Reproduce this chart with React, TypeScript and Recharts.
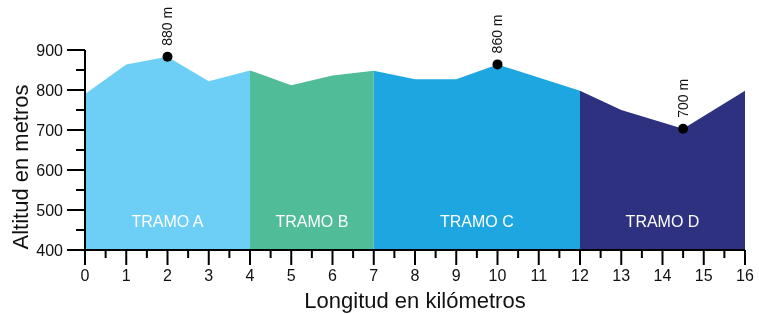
import React from "react";
import {
  ComposedChart,
  Area,
  Scatter,
  XAxis,
  YAxis,
  ReferenceDot,
  Label,
} from "recharts";

const tramoA = [
  { km: 0, alt: 790 },
  { km: 1, alt: 864 },
  { km: 2, alt: 883 },
  { km: 3, alt: 822 },
  { km: 4, alt: 849 },
];
const tramoB = [
  { km: 4, alt: 849 },
  { km: 5, alt: 812 },
  { km: 6, alt: 836 },
  { km: 7, alt: 848 },
];
const tramoC = [
  { km: 7, alt: 848 },
  { km: 8, alt: 827 },
  { km: 9, alt: 827 },
  { km: 10, alt: 864 },
  { km: 12, alt: 798 },
];
const tramoD = [
  { km: 12, alt: 798 },
  { km: 13, alt: 750 },
  { km: 14.5, alt: 703 },
  { km: 16, alt: 798 },
];

const puntos = [
  { km: 2, alt: 883, label: "880 m" },
  { km: 10, alt: 864, label: "860 m" },
  { km: 14.5, alt: 703, label: "700 m" },
];

const tramoLabels = [
  { km: 2, alt: 472, label: "TRAMO A" },
  { km: 5.5, alt: 472, label: "TRAMO B" },
  { km: 9.5, alt: 472, label: "TRAMO C" },
  { km: 14, alt: 472, label: "TRAMO D" },
];

const xTicks = Array.from({ length: 33 }, (_, i) => i / 2);
const yTicks = [400, 450, 500, 550, 600, 650, 700, 750, 800, 850, 900];

const FONT = "'Liberation Sans', Arial, Helvetica, sans-serif";

const XTick = (props: any) => {
  const { x, y, payload } = props;
  const major = Number.isInteger(payload.value);
  return (
    <g>
      <line x1={x} x2={x} y1={y} y2={y + (major ? 15 : 8)} stroke="#000" strokeWidth={2} />
      {major && (
        <text x={x} y={y + 31} textAnchor="middle" fontSize={16} fontFamily={FONT} fill="#111">
          {payload.value}
        </text>
      )}
    </g>
  );
};

const YTick = (props: any) => {
  const { x, y, payload } = props;
  const major = payload.value % 100 === 0;
  return (
    <g>
      <line x1={x - (major ? 18 : 9)} x2={x} y1={y} y2={y} stroke="#000" strokeWidth={2} />
      {major && (
        <text x={x - 22} y={y} textAnchor="end" dominantBaseline="central" fontSize={16} fontFamily={FONT} fill="#111">
          {payload.value}
        </text>
      )}
    </g>
  );
};

const TramoText = (props: any) => {
  const { cx, cy, payload } = props;
  return (
    <text x={cx} y={cy} textAnchor="middle" dominantBaseline="central" fontSize={16} fontFamily={FONT} fill="#fff">
      {payload.label}
    </text>
  );
};

export default function App() {
  return (
    <div style={{ position: "fixed", left: 0, top: 0, width: 759, height: 314 }}>
      <ComposedChart
        width={759}
        height={314}
        margin={{ top: 50, right: 14, left: 8, bottom: 0 }}
      >
        <XAxis
          dataKey="km"
          type="number"
          domain={[0, 16]}
          ticks={xTicks}
          interval={0}
          height={64}
          tickSize={0}
          tickMargin={0}
          tickLine={false}
          tick={<XTick />}
          axisLine={{ stroke: "#000", strokeWidth: 2 }}
        >
          <Label
            content={(p: any) => {
              const vb = p.viewBox;
              return (
                <text x={vb.x + vb.width / 2} y={vb.y + 58} textAnchor="middle" fontSize={22} fontFamily={FONT} fill="#111">
                  Longitud en kilómetros
                </text>
              );
            }}
          />
        </XAxis>
        <YAxis
          dataKey="alt"
          type="number"
          domain={[400, 900]}
          ticks={yTicks}
          interval={0}
          width={77}
          tickSize={0}
          tickMargin={0}
          tickLine={false}
          tick={<YTick />}
          axisLine={{ stroke: "#000", strokeWidth: 2 }}
        >
          <Label
            content={() => (
              <text
                x={20}
                y={167}
                transform="rotate(-90 20 167)"
                textAnchor="middle"
                dominantBaseline="central"
                fontSize={22}
                fontFamily={FONT}
                fill="#111"
              >
                Altitud en metros
              </text>
            )}
          />
        </YAxis>
        <Area data={tramoA} dataKey="alt" type="linear" fill="#6DCFF6" fillOpacity={1} stroke="none" isAnimationActive={false} />
        <Area data={tramoB} dataKey="alt" type="linear" fill="#50BD98" fillOpacity={1} stroke="none" isAnimationActive={false} />
        <Area data={tramoC} dataKey="alt" type="linear" fill="#1DA6DF" fillOpacity={1} stroke="none" isAnimationActive={false} />
        <Area data={tramoD} dataKey="alt" type="linear" fill="#2E3180" fillOpacity={1} stroke="none" isAnimationActive={false} />
        <Scatter data={tramoLabels} dataKey="alt" shape={<TramoText />} isAnimationActive={false} />
        {puntos.map((p) => (
          <ReferenceDot
            key={p.label}
            x={p.km}
            y={p.alt}
            r={5}
            fill="#000"
            stroke="none"
            label={(lp: any) => {
              const vb = lp.viewBox;
              const cx = vb.x + (vb.width || 0) / 2;
              const cy = vb.y + (vb.height || 0) / 2;
              return (
                <text
                  x={cx + 5}
                  y={cy - 11}
                  transform={`rotate(-90 ${cx + 5} ${cy - 11})`}
                  textAnchor="start"
                  fontSize={14}
                  fontFamily={FONT}
                  fill="#111"
                >
                  {p.label}
                </text>
              );
            }}
          />
        ))}
      </ComposedChart>
    </div>
  );
}
